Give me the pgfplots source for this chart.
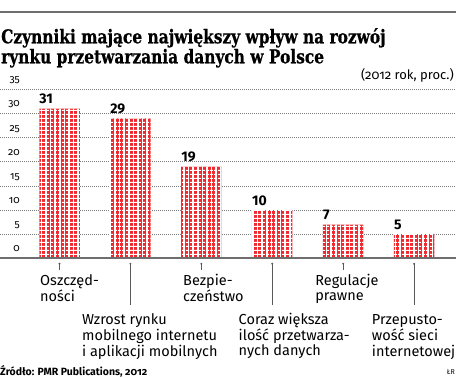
\documentclass[border=0pt]{standalone}
\usepackage{pgfplots}
\pgfplotsset{compat=1.18}
\usetikzlibrary{patterns.meta}
\usepackage{fontspec}
\setmainfont{Fira Sans}
\newfontfamily\numfont{Fira Sans}[Numbers=OldStyle]
\newfontfamily\titlefont{DejaVu Serif}[FakeStretch=0.81, BoldFeatures={FakeBold=0.6}]
\definecolor{barred}{RGB}{240,40,45}
\definecolor{gridgray}{RGB}{125,125,125}
\definecolor{rulegray}{RGB}{110,110,110}
\definecolor{tickgray}{RGB}{90,90,90}
\newcommand\uplab[2]{\kern#1pt\begin{tabular}[t]{@{}l@{}}#2\end{tabular}}
\newcommand\lowlab[2]{\kern#1pt\raisebox{-39pt}{\begin{tabular}[t]{@{}l@{}}#2\end{tabular}}}
\begin{document}
\begin{tikzpicture}[x=1pt,y=1pt]
\useasboundingbox (0,0) rectangle (456,378);
\draw[line width=2pt, rulegray] (0,366) -- (456,366);
\node[anchor=base west, inner sep=0pt, font=\titlefont\bfseries\fontsize{19}{20}\selectfont] at (1,334.7) {Czynniki mające największy wpływ na rozwój};
\node[anchor=base west, inner sep=0pt, font=\titlefont\bfseries\fontsize{19}{20}\selectfont] at (1,314.7) {rynku przetwarzania danych w Polsce};
\node[anchor=base east, inner sep=0pt, font=\numfont\fontsize{13}{15}\selectfont] at (454,298) {(2012 rok, proc.)};
\node[anchor=base west, inner sep=0pt, font=\numfont\bfseries\fontsize{10.5}{12}\selectfont] at (0,2.5) {Źródło: PMR Publications, 2012};
\node[anchor=base east, inner sep=0pt, font=\fontsize{7}{8}\selectfont] at (455,3) {ŁR};
\begin{axis}[
  at={(0pt,119.7pt)}, anchor=south west,
  scale only axis, width=456pt, height=169pt,
  xmin=-0.8392, xmax=5.5915, ymin=0, ymax=35,
  axis line style={draw=none}, clip=false,
  ytick={0,5,...,35}, ymajorgrids,
  grid style={gridgray, line width=0.7pt, dash pattern=on 0.7pt off 1.3pt},
  major tick length=0pt,
  /pgf/number format/assume math mode=true,
  yticklabel style={anchor=base east, inner sep=0pt, xshift=20pt, yshift=6.5pt, font=\numfont\fontsize{10.5}{12}\selectfont},
  xtick={0,1,2,3,4,5},
  xticklabels={
    {\uplab{-19.5}{Oszczęd-\\ności}},
    {\lowlab{-48.5}{Wzrost rynku\\mobilnego internetu\\i aplikacji mobilnych}},
    {\uplab{-18.3}{Bezpie-\\czeństwo}},
    {\lowlab{-33.7}{Coraz większa\\ilość przetwarza-\\nych danych}},
    {\uplab{-28}{Regulacje\\prawne}},
    {\lowlab{-42.3}{Przepusto-\\wość sieci\\internetowej}}},
  xticklabel style={anchor=base west, inner sep=0pt, yshift=-27pt, font=\fontsize{14.5}{15.2}\selectfont},
]
\addplot[ybar, bar width=40.5pt, fill=barred, draw=none,
  postaction={pattern={Lines[angle=90,distance=4.6pt,line width=1.5pt]}, pattern color=white},
  postaction={pattern={Lines[angle=0,distance=4pt,line width=1.3pt]}, pattern color=white},
  nodes near coords,
  every node near coord/.append style={anchor=base west, inner sep=0pt, xshift=-20.25pt, yshift=5pt, font=\bfseries\fontsize{14}{16}\selectfont, text=black}]
  coordinates {(0,31) (1,29) (2,19) (3,10) (4,7) (5,5)};
\draw[line width=1.8pt, rulegray] (axis cs:-0.8392,0) -- (axis cs:5.5915,0);
\pgfplotsinvokeforeach{0,2,4}{
  \draw[tickgray, line width=0.8pt] (axis cs:#1,0) ++(0pt,-5pt) -- ++(0pt,-7pt);
  \fill[tickgray] (axis cs:#1,0) ++(0pt,-5.5pt) circle (1.1pt);
}
\pgfplotsinvokeforeach{1,3,5}{
  \draw[tickgray, line width=0.8pt] (axis cs:#1,0) ++(0pt,-5pt) -- ++(0pt,-42pt);
  \fill[tickgray] (axis cs:#1,0) ++(0pt,-5.5pt) circle (1.1pt);
}
\end{axis}
\end{tikzpicture}
\end{document}
